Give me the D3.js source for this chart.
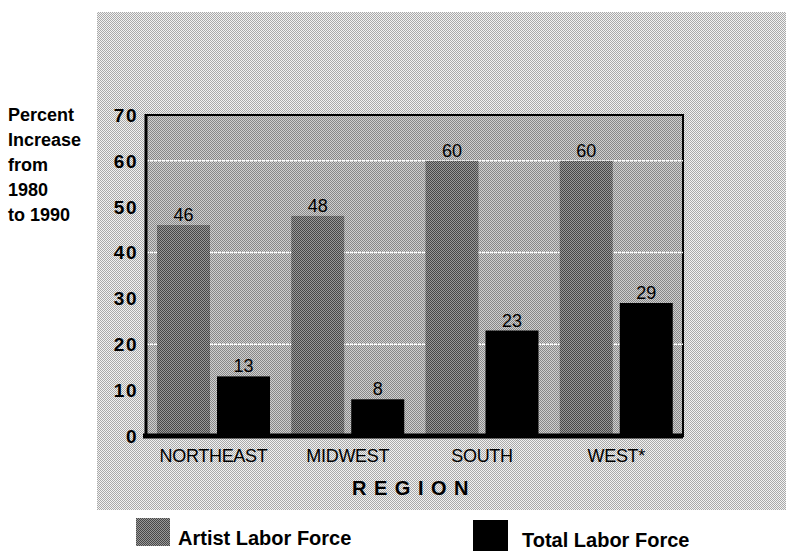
<!DOCTYPE html>
<html>
<head>
<meta charset="utf-8">
<script src="https://cdn.jsdelivr.net/npm/d3@7"></script>
<style>
  body { margin: 0; background: #fff; }
  text { font-family: "Liberation Sans", Arial, sans-serif; fill: #000; }
</style>
</head>
<body>
<svg width="786" height="551"></svg>
<script>
  var regions = ['NORTHEAST', 'MIDWEST', 'SOUTH', 'WEST*'];
  var artist = [46, 48, 60, 60];
  var total = [13, 8, 23, 29];
  var yTicks = [0, 10, 20, 30, 40, 50, 60, 70];
  var gridValues = [20, 40, 60];
  var seriesNames = ['Artist Labor Force', 'Total Labor Force'];

  var svg = d3.select('svg');
  var defs = svg.append('defs');

  // dither-like patterns
  function dither(id, a, b) {
    var p = defs.append('pattern').attr('id', id)
      .attr('width', 2).attr('height', 2).attr('patternUnits', 'userSpaceOnUse');
    p.append('rect').attr('width', 2).attr('height', 2).attr('fill', a);
    p.append('rect').attr('width', 1).attr('height', 1).attr('fill', b);
    p.append('rect').attr('x', 1).attr('y', 1).attr('width', 1).attr('height', 1).attr('fill', b);
  }
  dither('bgPat', '#f2f2f2', '#a9a9a9');
  dither('plotPat', '#d0d0d0', '#888888');
  dither('barPat', '#9a9a9a', '#484848');

  var pLeft = 146, pRight = 683, pTop = 115, pBottom = 436;

  // outer textured background
  svg.append('rect').attr('x', 97).attr('y', 12).attr('width', 689).attr('height', 498)
    .attr('fill', 'url(#bgPat)');

  var x = d3.scaleBand().domain(regions).range([pLeft, pRight]);
  var y = d3.scaleLinear().domain([0, 70]).range([pBottom, pTop]);

  // plot area
  svg.append('rect').attr('x', pLeft).attr('y', pTop)
    .attr('width', pRight - pLeft).attr('height', pBottom - pTop)
    .attr('fill', 'url(#plotPat)').attr('stroke', '#000').attr('stroke-width', 2);

  // gridlines
  svg.selectAll('.grid').data(gridValues).enter().append('line')
    .attr('x1', pLeft).attr('x2', pRight)
    .attr('y1', function(d) { return y(d); }).attr('y2', function(d) { return y(d); })
    .attr('stroke', '#fff').attr('stroke-width', 1.5).attr('stroke-dasharray', '3,1');

  var barW = 53;
  var off1 = 11, off2 = 71;

  // artist bars
  svg.selectAll('.artist').data(artist).enter().append('rect')
    .attr('x', function(d, i) { return x(regions[i]) + off1; })
    .attr('y', function(d) { return y(d); })
    .attr('width', barW)
    .attr('height', function(d) { return pBottom - y(d); })
    .attr('fill', 'url(#barPat)');

  // total bars
  svg.selectAll('.total').data(total).enter().append('rect')
    .attr('x', function(d, i) { return x(regions[i]) + off2; })
    .attr('y', function(d) { return y(d); })
    .attr('width', barW)
    .attr('height', function(d) { return pBottom - y(d); })
    .attr('fill', '#000');

  // value labels
  svg.selectAll('.vlA').data(artist).enter().append('text')
    .attr('x', function(d, i) { return x(regions[i]) + off1 + barW / 2; })
    .attr('y', function(d) { return y(d) - 4; })
    .attr('text-anchor', 'middle').attr('font-size', 18)
    .text(function(d) { return d; });
  svg.selectAll('.vlT').data(total).enter().append('text')
    .attr('x', function(d, i) { return x(regions[i]) + off2 + barW / 2; })
    .attr('y', function(d) { return y(d) - 4; })
    .attr('text-anchor', 'middle').attr('font-size', 18)
    .text(function(d) { return d; });

  // axes lines
  svg.append('line').attr('x1', pLeft).attr('x2', pLeft).attr('y1', pTop - 1).attr('y2', pBottom + 2)
    .attr('stroke', '#000').attr('stroke-width', 3);
  svg.append('line').attr('x1', pLeft - 3).attr('x2', pRight).attr('y1', pBottom).attr('y2', pBottom)
    .attr('stroke', '#000').attr('stroke-width', 5);

  // y tick labels
  svg.selectAll('.yt').data(yTicks).enter().append('text')
    .attr('x', 138).attr('y', function(d) { return y(d); })
    .attr('dy', '0.36em').attr('text-anchor', 'end')
    .attr('font-size', 19).attr('font-weight', 'bold').attr('letter-spacing', '1.5')
    .text(function(d) { return d; });

  // y title
  var yTitle = ['Percent', 'Increase', 'from', '1980', 'to 1990'];
  svg.selectAll('.ytitle').data(yTitle).enter().append('text')
    .attr('x', 8).attr('y', function(d, i) { return 121 + i * 25; })
    .attr('font-size', 18).attr('font-weight', 'bold')
    .text(function(d) { return d; });

  // category labels
  svg.selectAll('.cat').data(regions).enter().append('text')
    .attr('x', function(d) { return x(d) + off1 + (off2 + barW - off1) / 2; })
    .attr('y', 462).attr('text-anchor', 'middle')
    .attr('font-size', 18).attr('letter-spacing', '-0.3')
    .text(function(d) { return d; });

  svg.append('text').attr('x', 414).attr('y', 495).attr('text-anchor', 'middle')
    .attr('font-size', 20).attr('font-weight', 'bold').attr('letter-spacing', '7.5')
    .text('REGION');

  // legend
  svg.append('rect').attr('x', 136).attr('y', 518).attr('width', 34).attr('height', 28)
    .attr('fill', 'url(#barPat)');
  svg.append('text').attr('x', 178).attr('y', 545).attr('font-size', 20).attr('font-weight', 'bold')
    .text(seriesNames[0]);
  svg.append('rect').attr('x', 473).attr('y', 520).attr('width', 35).attr('height', 31)
    .attr('fill', '#000');
  svg.append('text').attr('x', 522).attr('y', 547).attr('font-size', 20).attr('font-weight', 'bold')
    .text(seriesNames[1]);
</script>
</body>
</html>
